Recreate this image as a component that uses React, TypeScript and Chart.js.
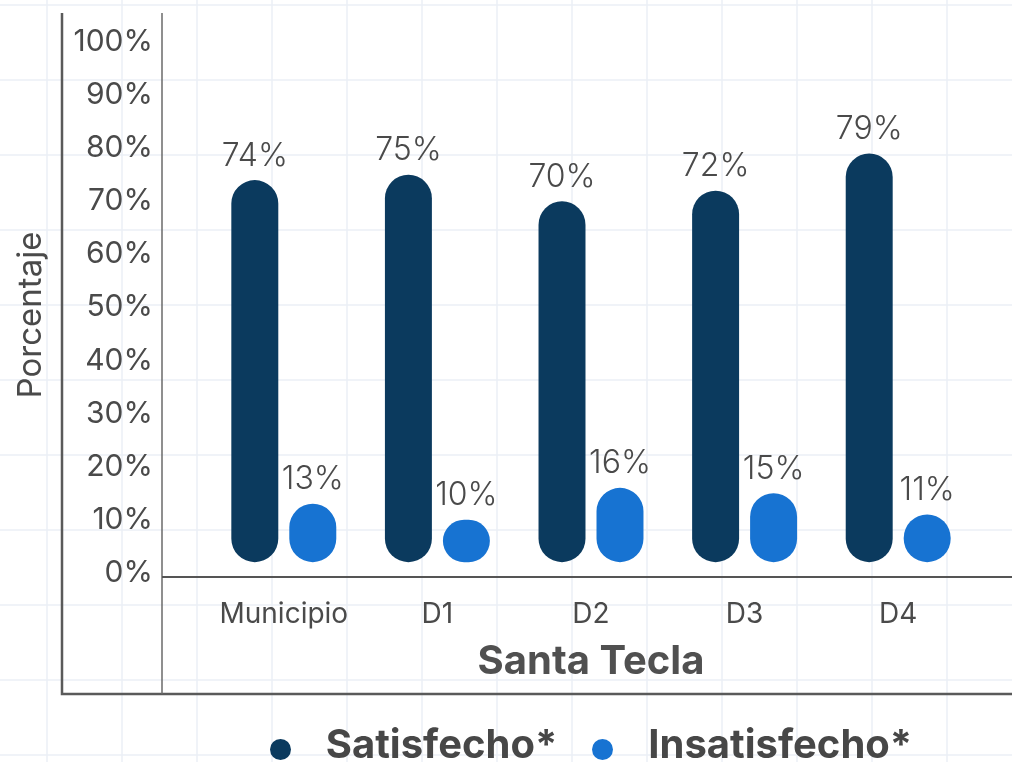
import React, { useEffect, useRef } from 'react';
import { Chart, registerables } from 'chart.js';

Chart.register(...registerables);

const categories = ['Municipio', 'D1', 'D2', 'D3', 'D4'];
const seriesNames = ['Satisfecho*', 'Insatisfecho*'];
const satisfecho = [74, 75, 70, 72, 79];
const insatisfecho = [13, 10, 16, 15, 11];
const yTickValues = [0, 10, 20, 30, 40, 50, 60, 70, 80, 90, 100];
const xTitle = 'Santa Tecla';
const yTitle = 'Porcentaje';
const seriesColors = ['#0b3a5e', '#1773d2'];

const FONT = 'Inter, "Open Sans", sans-serif';
const TEXT = '#4a4a4a';

const bgGrid = {
  id: 'bgGrid',
  beforeDraw(chart: any) {
    const { ctx, width, height } = chart;
    ctx.save();
    ctx.fillStyle = '#ffffff';
    ctx.fillRect(0, 0, width, height);
    ctx.strokeStyle = '#ebeff6';
    ctx.lineWidth = 1.5;
    for (let x = 47; x < width; x += 75) {
      ctx.beginPath();
      ctx.moveTo(x, 0);
      ctx.lineTo(x, height);
      ctx.stroke();
    }
    for (let y = 5; y < height; y += 75) {
      ctx.beginPath();
      ctx.moveTo(0, y);
      ctx.lineTo(width, y);
      ctx.stroke();
    }
    ctx.restore();
  },
};

const frame = {
  id: 'frame',
  beforeDatasetsDraw(chart: any) {
    const { ctx, width, chartArea } = chart;
    const outerLeft = 62;
    const innerLeft = 162;
    const top = chartArea.top - 1;
    const bottom = 694;
    ctx.save();
    ctx.strokeStyle = '#5a5a5a';
    ctx.lineWidth = 2.5;
    ctx.beginPath();
    ctx.moveTo(outerLeft, top);
    ctx.lineTo(outerLeft, bottom);
    ctx.lineTo(width, bottom);
    ctx.stroke();
    ctx.lineWidth = 1.5;
    ctx.strokeStyle = '#6a6a6a';
    ctx.beginPath();
    ctx.moveTo(innerLeft, top);
    ctx.lineTo(innerLeft, bottom);
    ctx.stroke();
    ctx.lineWidth = 2;
    ctx.strokeStyle = '#555555';
    ctx.beginPath();
    ctx.moveTo(innerLeft, chartArea.bottom);
    ctx.lineTo(width, chartArea.bottom);
    ctx.stroke();
    // y axis title
    ctx.translate(31, 315);
    ctx.rotate(-Math.PI / 2);
    ctx.font = `400 33px ${FONT}`;
    ctx.fillStyle = TEXT;
    ctx.textAlign = 'center';
    ctx.textBaseline = 'middle';
    ctx.fillText(yTitle, 0, 0);
    ctx.restore();
  },
};

const valueLabels = {
  id: 'valueLabels',
  afterDatasetsDraw(chart: any) {
    const { ctx } = chart;
    ctx.save();
    ctx.font = `300 32px ${FONT}`;
    ctx.fillStyle = TEXT;
    ctx.textAlign = 'center';
    ctx.textBaseline = 'bottom';
    chart.data.datasets.forEach((ds: any, di: number) => {
      const meta = chart.getDatasetMeta(di);
      meta.data.forEach((el: any, i: number) => {
        ctx.fillText(`${ds.data[i]}%`, el.x, el.y - 8);
      });
    });
    ctx.restore();
  },
};

export default function App() {
  const canvasRef = useRef<HTMLCanvasElement | null>(null);

  useEffect(() => {
    if (!canvasRef.current) return;
    const chart = new Chart(canvasRef.current, {
      type: 'bar',
      data: {
        labels: categories,
        datasets: [
          {
            label: seriesNames[0],
            data: satisfecho,
            backgroundColor: seriesColors[0],
            borderRadius: 100,
            borderSkipped: false,
            base: 2,
            barPercentage: 0.81,
            categoryPercentage: 0.755,
          } as any,
          {
            label: seriesNames[1],
            data: insatisfecho,
            backgroundColor: seriesColors[1],
            borderRadius: 100,
            borderSkipped: false,
            base: 2,
            barPercentage: 0.81,
            categoryPercentage: 0.755,
          } as any,
        ],
      },
      options: {
        animation: false,
        responsive: false,
        maintainAspectRatio: false,
        layout: { padding: { top: 14, right: 37, bottom: 0, left: 0 } },
        plugins: {
          legend: { display: false },
          tooltip: { enabled: false },
        },
        scales: {
          x: {
            grid: { display: false, drawTicks: false },
            border: { display: false },
            ticks: {
              padding: 21,
              color: TEXT,
              font: { family: FONT, size: 28, weight: '400' as any },
            },
            title: {
              display: true,
              text: xTitle,
              color: '#505050',
              font: { family: FONT, size: 40, weight: 'bold' },
              padding: { top: 0, bottom: 76 },
            },
            afterFit(scale: any) {
              scale.height = 185;
              scale.paddingLeft = 0;
              scale.paddingRight = 0;
            },
          },
          y: {
            min: -0.8,
            max: 105.3,
            afterBuildTicks(scale: any) {
              scale.ticks = yTickValues.map((v) => ({ value: v }));
            },
            grid: { display: false, drawTicks: false },
            border: { display: false },
            ticks: {
              padding: 54,
              color: TEXT,
              font: { family: FONT, size: 30, weight: '400' as any },
              callback: (v: any) => `${v}%`,
            },
            afterFit(scale: any) {
              scale.width = 207;
              scale.paddingTop = 0;
              scale.paddingBottom = 0;
            },
          },
        },
      },
      plugins: [bgGrid, frame, valueLabels],
    });
    return () => chart.destroy();
  }, []);

  const dot = (color: string) => ({
    display: 'inline-block',
    width: 21,
    height: 21,
    borderRadius: '50%',
    background: color,
    marginRight: 35,
    marginTop: 10,
  });

  return (
    <div style={{ position: 'fixed', left: 0, top: 0, width: 1012, height: 762, overflow: 'hidden', background: '#fff' }}>
      <canvas ref={canvasRef} width={1012} height={762} style={{ position: 'absolute', left: 0, top: 0, width: 1012, height: 762 }} />
      <div
        style={{
          position: 'absolute',
          left: 207,
          width: 768,
          top: 720,
          display: 'flex',
          justifyContent: 'center',
          alignItems: 'center',
          fontFamily: FONT,
          fontWeight: 700,
          fontSize: 40,
          color: '#474747',
          lineHeight: '48px',
          whiteSpace: 'nowrap',
        }}
      >
        {seriesNames.map((name, i) => (
          <div key={name} style={{ display: 'flex', alignItems: 'center', marginRight: i === 0 ? 35 : 0 }}>
            <span style={dot(seriesColors[i])} />
            <span>{name}</span>
          </div>
        ))}
      </div>
    </div>
  );
}
